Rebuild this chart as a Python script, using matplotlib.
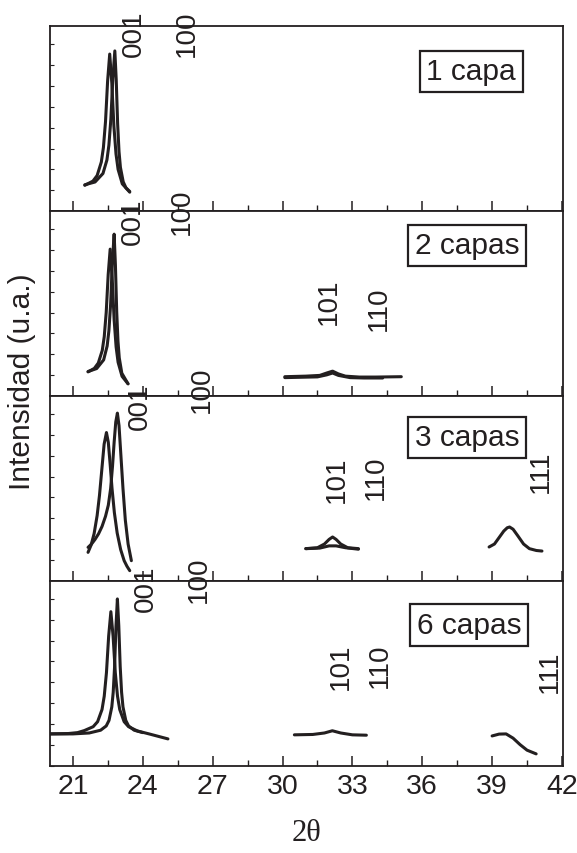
import numpy as np
import matplotlib
matplotlib.use('Agg')
import matplotlib.pyplot as plt
from matplotlib.ticker import MultipleLocator

plt.rcParams['font.family'] = ['Liberation Sans', 'DejaVu Sans']

# panel titles
panel_names = ['1 capa', '2 capas', '3 capas', '6 capas']

# --- 1 capa ---
p1_a_x = [21.51, 21.86, 22.04, 22.22, 22.31, 22.40, 22.49, 22.58, 22.67, 22.76, 22.85, 22.94, 23.12, 23.44]
p1_a_y = [0.140, 0.163, 0.193, 0.266, 0.345, 0.485, 0.704, 0.850, 0.694, 0.460, 0.310, 0.226, 0.148, 0.103]
p1_b_x = [21.51, 21.95, 22.29, 22.46, 22.545, 22.63, 22.715, 22.80, 22.86, 22.92, 22.98, 23.04, 23.16, 23.28, 23.44]
p1_b_y = [0.143, 0.158, 0.204, 0.277, 0.357, 0.499, 0.720, 0.867, 0.710, 0.474, 0.322, 0.237, 0.159, 0.126, 0.107]

# --- 2 capas ---
p2_a_x = [21.65, 21.92, 22.09, 22.26, 22.345, 22.43, 22.515, 22.60, 22.685, 22.77, 22.855, 22.94, 23.11, 23.37]
p2_a_y = [0.131, 0.150, 0.179, 0.247, 0.321, 0.453, 0.658, 0.795, 0.642, 0.413, 0.266, 0.183, 0.107, 0.066]
p2_b_x = [21.65, 22.02, 22.32, 22.47, 22.545, 22.62, 22.695, 22.77, 22.825, 22.88, 22.935, 22.99, 23.10, 23.36]
p2_b_y = [0.133, 0.149, 0.196, 0.271, 0.353, 0.498, 0.725, 0.876, 0.709, 0.458, 0.297, 0.207, 0.124, 0.068]
p2_c_x = [30.1, 31.0, 31.6, 31.9, 32.15, 32.4, 32.7, 33.3, 34.0, 35.1]
p2_c_y = [0.105, 0.108, 0.112, 0.125, 0.135, 0.12, 0.108, 0.103, 0.103, 0.105]
p2_d_x = [30.1, 31.5, 31.9, 32.15, 32.4, 32.9, 33.5, 34.3]
p2_d_y = [0.100, 0.104, 0.115, 0.125, 0.112, 0.100, 0.098, 0.098]

# --- 3 capas ---
p3_a_x = [21.65, 21.78, 21.91, 22.04, 22.14, 22.24, 22.34, 22.44, 22.52, 22.60, 22.68, 22.78, 22.90,
          23.05, 23.20, 23.32, 23.44]
p3_a_y = [0.155, 0.194, 0.256, 0.354, 0.462, 0.601, 0.740, 0.803, 0.750, 0.630, 0.500, 0.370, 0.260,
          0.170, 0.110, 0.080, 0.056]
p3_b_x = [21.65, 21.80, 21.95, 22.10, 22.25, 22.40, 22.52, 22.62, 22.70, 22.77, 22.84, 22.91, 22.98,
          23.06, 23.15, 23.25, 23.37, 23.51]
p3_b_y = [0.182, 0.200, 0.225, 0.255, 0.295, 0.350, 0.410, 0.500, 0.620, 0.750, 0.860, 0.908, 0.840,
          0.680, 0.500, 0.330, 0.200, 0.110]
p3_c_x = [31.0, 31.5, 31.8, 32.0, 32.15, 32.3, 32.5, 32.8, 33.26]
p3_c_y = [0.175, 0.18, 0.20, 0.225, 0.238, 0.225, 0.20, 0.18, 0.175]
p3_d_x = [31.0, 31.6, 32.0, 32.3, 32.7, 33.26]
p3_d_y = [0.175, 0.178, 0.19, 0.19, 0.18, 0.172]
p3_e_x = [38.87, 39.1, 39.3, 39.5, 39.65, 39.75, 39.9, 40.1, 40.35, 40.6, 40.9, 41.14]
p3_e_y = [0.184, 0.20, 0.235, 0.27, 0.288, 0.292, 0.28, 0.245, 0.20, 0.175, 0.165, 0.162]

# --- 6 capas ---
p4_a_x = [20.0, 20.8, 21.2, 21.49, 21.87, 22.06, 22.25, 22.345, 22.44, 22.535, 22.63, 22.725, 22.82,
          22.915, 23.01, 23.20, 23.39, 23.77, 24.3, 25.08]
p4_a_y = [0.173, 0.175, 0.180, 0.191, 0.212, 0.239, 0.305, 0.377, 0.504, 0.702, 0.834, 0.702, 0.504,
          0.377, 0.305, 0.239, 0.212, 0.189, 0.172, 0.146]
p4_b_x = [20.0, 21.0, 21.7, 22.19, 22.43, 22.55, 22.67, 22.73, 22.79, 22.85, 22.91, 22.97, 23.03,
          23.09, 23.15, 23.27, 23.39, 23.63, 24.0]
p4_b_y = [0.173, 0.173, 0.178, 0.193, 0.216, 0.246, 0.319, 0.398, 0.538, 0.757, 0.903, 0.757, 0.538,
          0.398, 0.319, 0.246, 0.216, 0.193, 0.180]
p4_c_x = [30.51, 31.3, 31.8, 32.14, 32.5, 33.0, 33.6]
p4_c_y = [0.168, 0.170, 0.178, 0.19, 0.178, 0.168, 0.166]
p4_d_x = [39.0, 39.3, 39.6, 39.9, 40.2, 40.5, 40.89]
p4_d_y = [0.162, 0.172, 0.173, 0.15, 0.115, 0.085, 0.065]

curves = [
    [(p1_a_x, p1_a_y), (p1_b_x, p1_b_y)],
    [(p2_a_x, p2_a_y), (p2_b_x, p2_b_y), (p2_c_x, p2_c_y), (p2_d_x, p2_d_y)],
    [(p3_a_x, p3_a_y), (p3_b_x, p3_b_y), (p3_c_x, p3_c_y), (p3_d_x, p3_d_y), (p3_e_x, p3_e_y)],
    [(p4_a_x, p4_a_y), (p4_b_x, p4_b_y), (p4_c_x, p4_c_y), (p4_d_x, p4_d_y)],
]

# peak labels: (text, x, bottom of text as panel fraction)
peak_labels = [
    [('001', 23.62, 0.84), ('100', 25.89, 0.84)],
    [('001', 23.58, 0.82), ('100', 25.68, 0.876), ('101', 32.0, 0.39), ('110', 34.15, 0.36)],
    [('001', 23.87, 0.82), ('100', 26.53, 0.913), ('101', 32.35, 0.427), ('110', 33.99, 0.443),
     ('111', 41.1, 0.48)],
    [('001', 24.13, 0.838), ('100', 26.4, 0.886), ('101', 32.49, 0.416), ('110', 34.2, 0.427),
     ('111', 41.5, 0.40)],
]
box_pos = [(38.1, 0.757), (37.93, 0.816), (37.93, 0.778), (38.0, 0.762)]

ink = '#231f20'

fig = plt.figure(figsize=(5.77, 8.54), dpi=100)
gs = fig.add_gridspec(4, 1, left=0.086, right=0.976, bottom=0.102, top=0.968, hspace=0)
axes = [fig.add_subplot(gs[i]) for i in range(4)]

for i, ax in enumerate(axes):
    for x, y in curves[i]:
        ax.plot(x, y, color=ink, linewidth=2.2, solid_capstyle='round', solid_joinstyle='round')
    for txt, x, y in peak_labels[i]:
        ax.text(x, y, txt, rotation=90, ha='center', va='bottom', fontsize=20,
                color=ink, clip_on=False, zorder=5)
    bx, by = box_pos[i]
    ax.text(bx, by, panel_names[i], ha='center', va='center', fontsize=21.5, color=ink,
            bbox=dict(boxstyle='square,pad=0.22', facecolor='white', edgecolor=ink, linewidth=1.6))

    ax.set_xlim(20, 42.05)
    ax.set_ylim(0, 1)
    ax.set_xticks(np.arange(21, 43, 3))
    ax.xaxis.set_minor_locator(MultipleLocator(1.5))
    ax.yaxis.set_minor_locator(MultipleLocator(0.113))
    ax.set_yticks([])
    ax.tick_params(axis='x', which='major', direction='in', length=7, width=1.1, color=ink)
    ax.tick_params(axis='x', which='minor', direction='in', length=4, width=1.0, color=ink)
    ax.tick_params(axis='y', which='minor', direction='in', length=3, width=0.8, color=ink)
    for s in ax.spines.values():
        s.set_linewidth(1.3)
        s.set_color(ink)
    if i < 3:
        ax.tick_params(axis='x', labelbottom=False)
    else:
        ax.tick_params(axis='x', labelsize=20.5, labelcolor=ink, pad=5)

axes[3].set_xlabel('2θ', fontsize=22, family=['Liberation Serif', 'DejaVu Serif'],
                   color=ink, labelpad=14)
fig.text(0.038, 0.553, 'Intensidad (u.a.)', rotation=90, ha='center', va='center',
         fontsize=21.5, color=ink)

plt.savefig('out.png', dpi=100)
plt.close(fig)
